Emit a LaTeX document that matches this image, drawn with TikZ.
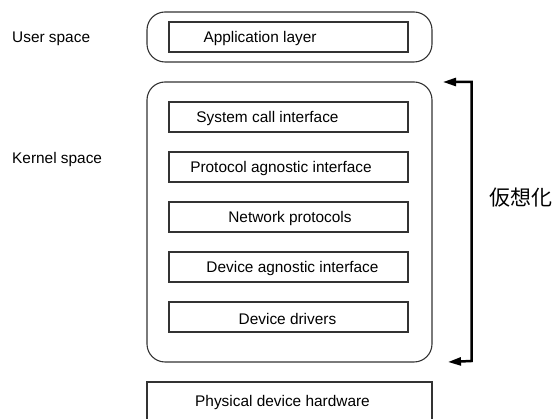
\documentclass[tikz,border=0pt]{standalone}
\usepackage{fontspec}
\setmainfont{Liberation Sans}
\newfontfamily\jpfont{Noto Sans CJK JP}
\usetikzlibrary{arrows.meta}

\begin{document}
\begin{tikzpicture}[x=1pt,y=-1pt,
    every node/.style={font=\fontsize{15.4}{18}\selectfont},
    space/.style={draw=black!80,line width=1.1pt,rounded corners=18pt,
        minimum width=285pt,inner sep=0pt,outer sep=0pt},
    layer/.style={draw=black!80,line width=1.1pt,
        minimum width=239pt,minimum height=30pt,inner sep=0pt,outer sep=0pt},
    virt/.style={line width=2.5pt,
        {Triangle[length=13pt,width=8pt]}-{Triangle[length=13pt,width=8pt]}}]
        \useasboundingbox (0,0) rectangle (558,419);
        % outer frames
        \node[space,minimum height=50pt] at (289.5,37) (user) {};
        \node[space,minimum height=280pt] at (289.5,222) (kernel) {};
        \node[layer,minimum width=285pt,minimum height=58pt] at (289.5,411) (hw) {};
        % layer boxes
        \node[layer] at (288.5,37) (app) {};
        \node[layer] at (288.5,117) (sys) {};
        \node[layer] at (288.5,167) (proto) {};
        \node[layer] at (288.5,217) (net) {};
        \node[layer] at (288.5,267) (devag) {};
        \node[layer] at (288.5,317) (drv) {};
        % box texts
        \node[] at ([xshift=-28.5pt,yshift=-1.5pt]app.center) (tapp) {Application layer};
        \node[] at ([xshift=-21pt,yshift=-1.5pt]sys.center) (tsys) {System call interface};
        \node[] at ([xshift=-7.5pt,yshift=-1.5pt]proto.center) (tproto) {Protocol agnostic interface};
        \node[] at ([xshift=1.5pt,yshift=-1.5pt]net.center) (tnet) {Network protocols};
        \node[] at ([xshift=4pt,yshift=-1.5pt]devag.center) (tdevag) {Device agnostic interface};
        \node[] at ([xshift=-1pt,yshift=-1.5pt]drv.center) (tdrv) {Device drivers};
        \node[] at (282.5,403) (thw) {Physical device hardware};
        % side labels
        \node[anchor=west,inner sep=0pt] at (12,39) (us) {User space};
        \node[anchor=west,inner sep=0pt] at (12,159.5) (ks) {Kernel space};
        \node[anchor=west,inner sep=0pt,font=\jpfont\fontsize{21}{24}\selectfont] at (489.5,198) (vl) {仮想化};
        % virtualisation bracket
        \coordinate (vtop) at (471.5,82);
        \coordinate (vbot) at (471.5,361);
        \draw[virt] ([xshift=11pt]kernel.north east) -- (vtop) -- (vbot) -- ([xshift=16pt]kernel.south east);
    \end{tikzpicture}
\end{document}
